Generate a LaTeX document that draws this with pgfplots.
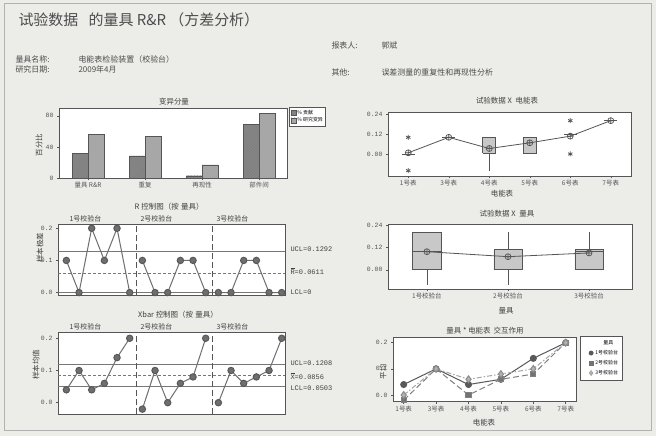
\documentclass[border=0pt]{standalone}
\usepackage{pgfplots}
\pgfplotsset{compat=1.18}
\usetikzlibrary{patterns,plotmarks}
\usepackage{fontspec}
\setmainfont{Liberation Mono}
\newfontfamily\cjk{Noto Sans CJK SC}

\definecolor{paper}{RGB}{236,236,233}
\definecolor{ink}{RGB}{85,85,85}
\definecolor{pt}{RGB}{110,110,110}
\definecolor{boxg}{RGB}{200,200,200}
\definecolor{bar1}{RGB}{128,128,128}
\definecolor{bar2}{RGB}{168,168,168}

\newcommand{\fs}[1]{\fontsize{#1}{#1}\selectfont}

\pgfplotsset{
  panel/.style={
    scale only axis, anchor=north west,
    axis background/.style={fill=white},
    axis line style={ink, line width=0.9bp},
    tick align=outside, major tick length=2bp,
    tick style={ink, line width=0.5bp},
    ticklabel style={font=\fs{6.5}, text=ink},
    xticklabel style={font=\cjk\fs{6.5}, yshift=1bp},
    /pgf/number format/assume math mode=true,
    xtick pos=bottom, ytick pos=left,
  },
  ctrl/.style={pt, line width=1bp, mark=*, mark size=3.2bp,
    mark options={fill=pt, draw=pt!80!black}},
  limline/.style={ink!80, line width=0.5bp},
  cenline/.style={ink!80, line width=0.5bp, dash pattern=on 3bp off 2bp},
  divline/.style={ink, line width=1bp, dash pattern=on 6bp off 3bp},
  meanln/.style={ink, line width=0.8bp, mark=oplus, mark size=3bp,
    mark options={line width=0.7bp, fill=white}},
  bx/.style={draw=ink, fill=boxg, line width=0.6bp},
  wh/.style={ink, line width=0.6bp},
}

\begin{document}
\begin{tikzpicture}[x=1bp,y=1bp]
\fill[paper] (0,0) rectangle (656,436);
\draw[gray!60, line width=0.8bp] (4,6) rectangle (651,433);

% header
\node[anchor=west, font=\cjk\fs{15}, text=black!70] at (15,416) {试验数据\hspace{0.7em}的量具 R\&R （方差分析）};
\begin{scope}[every node/.style={anchor=west, font=\cjk\fs{8}, text=black!70}]
\node at (12,377) {量具名称:};
\node at (75,377) {电能表检验装置（校验台）};
\node at (12,367) {研究日期:};
\node at (75,367) {2009年4月};
\node at (328,391) {报表人:};
\node at (378,391) {郭斌};
\node at (328,364) {其他:};
\node at (378,364) {误差测量的重复性和再现性分析};
\end{scope}

% panel titles, axis labels
\begin{scope}[every node/.style={font=\cjk\fs{7.5}, text=black!75}]
\node at (174,334) {变异分量};
\node at (507,335) {试验数据 X\hspace{0.5em}电能表};
\node at (169,229) {R\hspace{0.3em}控制图（按\hspace{0.3em}量具）};
\node at (507,222) {试验数据 X\hspace{0.5em}量具};
\node at (178,121) {Xbar 控制图（按\hspace{0.3em}量具）};
\node at (485,105) {量具 * 电能表\hspace{0.4em}交互作用};
\node at (502,242) {电能表};
\node at (506,125) {量具};
\node at (484,13) {电能表};
\node[rotate=90] at (39,291) {百分比};
\node[rotate=90] at (40,188) {样本极差};
\node[rotate=90] at (36,71) {样本均值};
\node[rotate=90] at (383,64) {平均};
\end{scope}

% group labels above control charts
\begin{scope}[every node/.style={anchor=west, font=\cjk\fs{7}, text=black!75}]
\node at (66,217) {1号校验台};
\node at (137,217) {2号校验台};
\node at (213,217) {3号校验台};
\node at (66,109) {1号校验台};
\node at (137,109) {2号校验台};
\node at (213,109) {3号校验台};
\end{scope}

% control limit labels
\begin{scope}[every node/.style={anchor=west, font=\fs{7}, text=black!75}]
\node at (287,187) {UCL=0.1292};
\node at (287,165) {$\overline{\hbox{R}}$=0.0611};
\node at (287,144) {LCL=0};
\node at (287,73) {UCL=0.1208};
\node at (287,60) {$\overline{\hbox{X}}$=0.0856};
\node at (287,48) {LCL=0.0503};
\end{scope}

% ---------- components of variation
\begin{axis}[panel, at={(59bp,328bp)}, width=228bp, height=70bp,
  xmin=-0.51, xmax=3.49, ymin=0, ymax=90,
  ytick={0,40,80}, xtick={0,1,2,3},
  xticklabels={量具 R\&R, 重复, 再现性, 部件间},
  ybar=0pt, bar width=16bp,
  legend style={at={(1.009,1.01)}, anchor=north west, font=\cjk\fs{5},
    draw=ink, fill=white, inner sep=1.5bp, row sep=0bp,
    nodes={inner sep=1bp}},
  legend cell align=left,
  legend image code/.code={\draw[#1] (0bp,-2.6bp) rectangle (5.2bp,2.6bp);},
]
\addplot[fill=bar1, draw=ink, postaction={pattern=north east lines, pattern color=black!45}]
  coordinates {(0,31.4) (1,28.5) (2,2.9) (3,68.6)};
\addplot[fill=bar2, draw=ink, postaction={pattern=north east lines, pattern color=black!35}]
  coordinates {(0,56.0) (1,53.4) (2,17.0) (3,82.8)};
\legend{\% 贡献, \% 研究变异}
\end{axis}

% ---------- by part
\begin{axis}[panel, at={(388bp,324bp)}, width=243bp, height=64bp,
  xmin=0.5, xmax=6.5, ymin=-0.132, ymax=0.252,
  ytick={0,0.12,0.24}, yticklabels={0.00,0.12,0.24},
  xtick={1,...,6}, xticklabels={1号表,3号表,4号表,5号表,6号表,7号表},
]
% whiskers
\addplot[wh] coordinates {(3,0.005) (3,-0.1)};
% boxes
\addplot[bx] coordinates {(2.84,0.005) (3.16,0.005) (3.16,0.1) (2.84,0.1) (2.84,0.005)};
\addplot[bx] coordinates {(3.84,0.005) (4.16,0.005) (4.16,0.1) (3.84,0.1) (3.84,0.005)};
% collapsed boxes
\addplot[wh] coordinates {(0.84,0) (1.16,0)};
\addplot[wh] coordinates {(1.84,0.1) (2.16,0.1)};
\addplot[wh] coordinates {(4.84,0.12) (5.16,0.12)};
\addplot[wh] coordinates {(5.84,0.2) (6.16,0.2)};
% outliers
\addplot[only marks, mark=asterisk, mark size=2.5bp, ink, mark options={line width=0.8bp}]
  coordinates {(1,0.1) (1,-0.1) (5,0.2) (5,0.0)};
\addplot[meanln] coordinates {(1,0.007) (2,0.1) (3,0.033) (4,0.067) (5,0.107) (6,0.2)};
\end{axis}

% ---------- by operator
\begin{axis}[panel, at={(388bp,212bp)}, width=244bp, height=65bp,
  xmin=0.52, xmax=3.53, ymin=-0.103, ymax=0.245,
  ytick={0,0.12,0.24}, yticklabels={0.00,0.12,0.24},
  xtick={1,2,3}, xticklabels={1号校验台,2号校验台,3号校验台},
]
% whiskers
\addplot[wh] coordinates {(1,0) (1,-0.08)};
\addplot[wh] coordinates {(2,0) (2,-0.08)};
\addplot[wh] coordinates {(2,0.107) (2,0.2)};
\addplot[wh] coordinates {(3,0.107) (3,0.2)};
% boxes
\addplot[bx] coordinates {(0.825,0) (1.175,0) (1.175,0.2) (0.825,0.2) (0.825,0)};
\addplot[bx] coordinates {(1.825,0) (2.175,0) (2.175,0.107) (1.825,0.107) (1.825,0)};
\addplot[bx] coordinates {(2.825,0) (3.175,0) (3.175,0.107) (2.825,0.107) (2.825,0)};
% medians
\addplot[wh] coordinates {(0.825,0.1) (1.175,0.1)};
\addplot[wh] coordinates {(2.825,0.1) (3.175,0.1)};
\addplot[meanln] coordinates {(1,0.0967) (2,0.07) (3,0.09)};
\end{axis}

% ---------- R chart
\begin{axis}[panel, at={(58bp,211.7bp)}, width=227bp, height=71bp,
  xmin=0.34, xmax=18.26, ymin=-0.0085, ymax=0.2125,
  ytick={0,0.1,0.2}, yticklabels={0.0,0.1,0.2}, xtick=\empty,
  clip=false,
]
\addplot[limline] coordinates {(0.34,0.1292) (18.26,0.1292)};
\addplot[cenline] coordinates {(0.34,0.0611) (18.26,0.0611)};
\addplot[limline] coordinates {(0.34,0) (18.26,0)};
\addplot[divline] coordinates {(6.5,-0.0085) (6.5,0.2125)};
\addplot[divline] coordinates {(12.5,-0.0085) (12.5,0.2125)};
\addplot[ctrl] coordinates {(1,0.1) (2,0) (3,0.2) (4,0.1) (5,0.2) (6,0)};
\addplot[ctrl] coordinates {(7,0.1) (8,0) (9,0) (10,0.1) (11,0.1) (12,0)};
\addplot[ctrl] coordinates {(13,0) (14,0) (15,0.1) (16,0.1) (17,0) (18,0)};
\end{axis}

% ---------- Xbar chart
\begin{axis}[panel, at={(58bp,103.7bp)}, width=227bp, height=82bp,
  xmin=0.34, xmax=18.26, ymin=-0.036, ymax=0.2186,
  ytick={0,0.1,0.2}, yticklabels={0.0,0.1,0.2}, xtick=\empty,
  clip=false,
]
\addplot[limline] coordinates {(0.34,0.1208) (18.26,0.1208)};
\addplot[cenline] coordinates {(0.34,0.0856) (18.26,0.0856)};
\addplot[limline] coordinates {(0.34,0.0503) (18.26,0.0503)};
\addplot[divline] coordinates {(6.5,-0.036) (6.5,0.2186)};
\addplot[divline] coordinates {(12.5,-0.036) (12.5,0.2186)};
\addplot[ctrl] coordinates {(1,0.04) (2,0.1) (3,0.04) (4,0.06) (5,0.14) (6,0.2)};
\addplot[ctrl] coordinates {(7,-0.02) (8,0.1) (9,0.0) (10,0.06) (11,0.08) (12,0.2)};
\addplot[ctrl] coordinates {(13,0.0) (14,0.1) (15,0.06) (16,0.08) (17,0.1) (18,0.2)};
\end{axis}

% ---------- interaction
\begin{axis}[panel, at={(393bp,98.3bp)}, width=183.4bp, height=64bp,
  xmin=0.67, xmax=6.33, ymin=-0.0256, ymax=0.219,
  ytick={0,0.1,0.2}, yticklabels={0.0,0.1,0.2},
  xtick={1,...,6}, xticklabels={1号表,3号表,4号表,5号表,6号表,7号表},
  clip=false,
  legend style={at={(1,1)}, anchor=north west, xshift=4bp, yshift=1.5bp,
    font=\cjk\fs{5}, draw=ink, fill=white, inner sep=2bp, row sep=0.3bp},
  legend cell align=left,
]
\addplot[forget plot, black!65, line width=1bp, mark=*, mark size=3bp]
  coordinates {(1,0.04) (2,0.1) (3,0.04) (4,0.06) (5,0.14) (6,0.2)};
\addplot[forget plot, black!50, line width=1bp, dash pattern=on 6bp off 3bp, mark=square*, mark size=2.6bp, mark options={solid, fill=black!55}]
  coordinates {(1,-0.02) (2,0.1) (3,0.0) (4,0.06) (5,0.08) (6,0.2)};
\addplot[forget plot, black!35, line width=1bp, dash pattern=on 5bp off 2bp on 1.5bp off 2bp, mark=diamond*, mark size=3.4bp, mark options={solid, fill=black!30, draw=black!45}]
  coordinates {(1,0.0) (2,0.1) (3,0.06) (4,0.08) (5,0.1) (6,0.2)};
\addlegendimage{empty legend}\addlegendentry{\hspace{8bp}量具}
\addlegendimage{only marks, black!65, mark=*, mark size=2.2bp}\addlegendentry{1号校验台}
\addlegendimage{only marks, black!55, mark=square*, mark size=2bp}\addlegendentry{2号校验台}
\addlegendimage{only marks, black!40, mark=diamond*, mark size=2.6bp, mark options={fill=black!30}}\addlegendentry{3号校验台}
\end{axis}

\pgfresetboundingbox
\useasboundingbox (0,0) rectangle (656,436);
\end{tikzpicture}
\end{document}
